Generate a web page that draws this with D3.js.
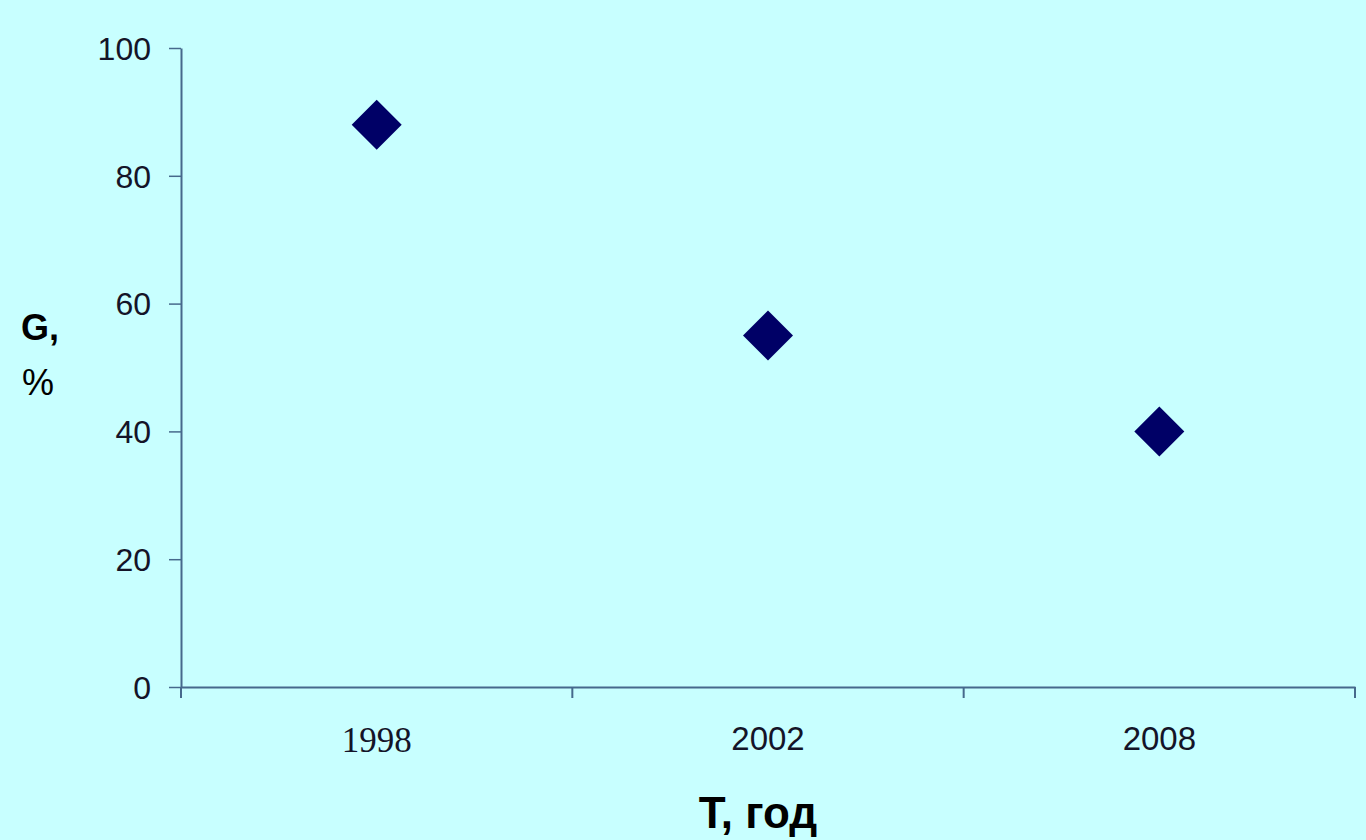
<!DOCTYPE html>
<html>
<head>
<meta charset="utf-8">
<script src="https://cdn.jsdelivr.net/npm/d3@7"></script>
<style>
  html, body { margin: 0; padding: 0; background: #c8ffff; }
  svg { display: block; }
</style>
</head>
<body>
<div id="vis"></div>
<script>
const years = ["1998", "2002", "2008"];
const shares = [88, 55, 40];
const yTicks = [0, 20, 40, 60, 80, 100];

const W = 1366, H = 840;
const margin = { top: 48, right: 11, bottom: 153, left: 181 };
const width = W - margin.left - margin.right;
const height = H - margin.top - margin.bottom;

const svg = d3.select("#vis")
  .append("svg")
    .attr("width", W)
    .attr("height", H);

svg.append("rect")
    .attr("width", W)
    .attr("height", H)
    .attr("fill", "#c8ffff");

const g = svg.append("g")
    .attr("transform", `translate(${margin.left}, ${margin.top})`);

const x = d3.scaleBand()
    .domain(years)
    .range([0, width])
    .padding(0);

const y = d3.scaleLinear()
    .domain([0, 100])
    .range([height, 0]);

const axisColor = "#46698c";
const sans = "Arial, 'Liberation Sans', sans-serif";

// y axis
const yAxis = g.append("g")
    .call(d3.axisLeft(y).tickValues(yTicks).tickSize(12).tickPadding(18).tickSizeOuter(0));
yAxis.select(".domain").attr("stroke", axisColor).attr("stroke-width", 2);
yAxis.selectAll(".tick line").attr("stroke", axisColor).attr("stroke-width", 1.5);
yAxis.selectAll(".tick text")
    .attr("font-family", sans)
    .attr("font-size", 32)
    .attr("dy", "0.35em")
    .attr("fill", "#141428");

// x axis
const xAxis = g.append("g")
    .attr("transform", `translate(0, ${height})`)
    .call(d3.axisBottom(x).tickSize(0).tickPadding(40).tickSizeOuter(0));
xAxis.select(".domain").attr("stroke", axisColor).attr("stroke-width", 2);
xAxis.selectAll(".tick text")
    .attr("font-family", d => d === "1998" ? "'Liberation Serif', 'Times New Roman', serif" : sans)
    .attr("font-size", d => d === "1998" ? 35 : 33)
    .attr("fill", "#141428");

// category boundary ticks
const bounds = years.map(d => x(d)).concat([x(years[years.length - 1]) + x.bandwidth()]);
xAxis.selectAll(".bound")
  .data(bounds)
  .enter().append("line")
    .attr("class", "bound")
    .attr("x1", d => d)
    .attr("x2", d => d)
    .attr("y1", 0)
    .attr("y2", 11)
    .attr("stroke", axisColor)
    .attr("stroke-width", 2);

// points
const diamond = d3.symbol().type(d3.symbolSquare).size(1250);
g.selectAll(".pt")
  .data(years.map((d, i) => ({ year: d, v: shares[i] })))
  .enter().append("path")
    .attr("class", "pt")
    .attr("d", diamond)
    .attr("fill", "#000066")
    .attr("transform", d => `translate(${x(d.year) + x.bandwidth() / 2}, ${y(d.v)}) rotate(45)`);

// axis titles
svg.append("text")
    .attr("x", 758)
    .attr("y", 828)
    .attr("text-anchor", "middle")
    .attr("font-family", sans)
    .attr("font-weight", "bold")
    .attr("font-size", 44)
    .attr("fill", "#000")
    .text("T, год");

const yt = svg.append("text")
    .attr("font-family", sans)
    .attr("font-size", 36)
    .attr("fill", "#000");
yt.append("tspan").attr("x", 21).attr("y", 340).attr("font-weight", "bold").text("G,");
yt.append("tspan").attr("x", 22).attr("y", 395).text("%");
</script>
</body>
</html>
